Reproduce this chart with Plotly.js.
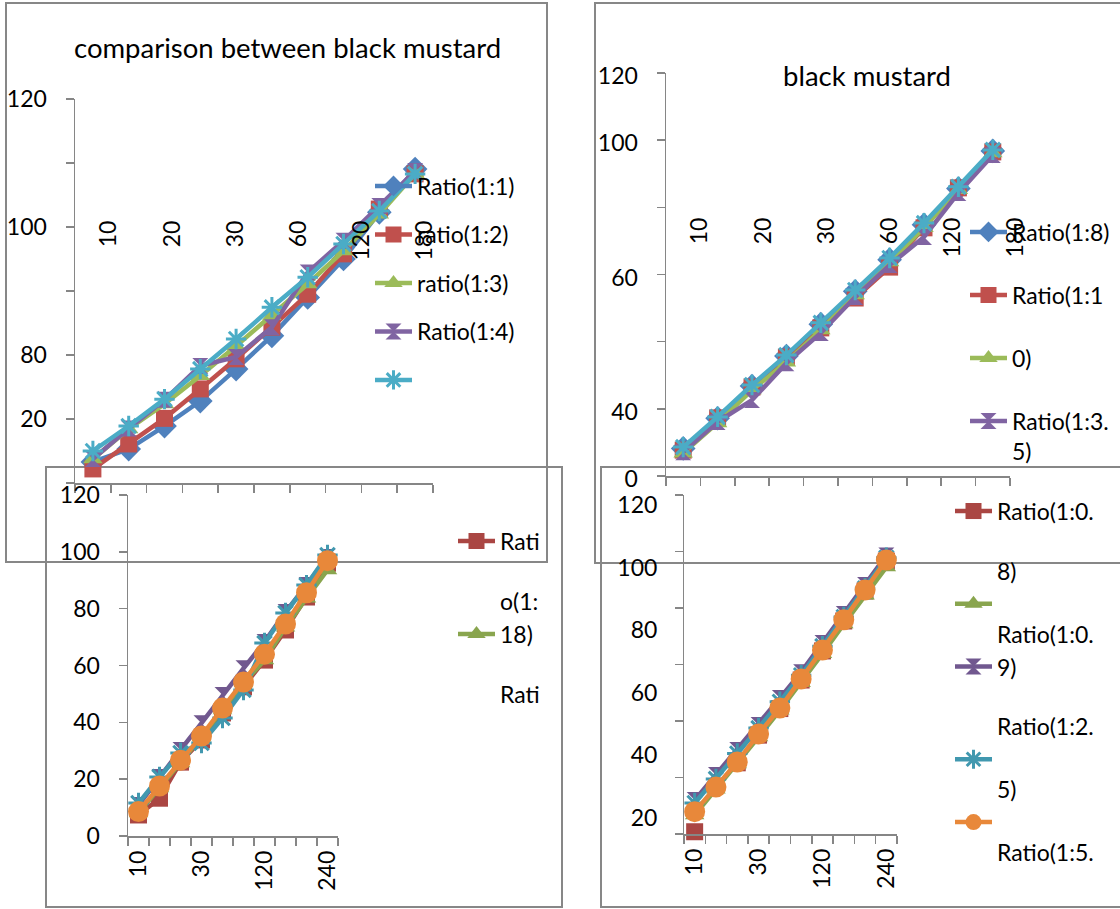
<!DOCTYPE html>
<html><head><meta charset="utf-8">
<script src="https://cdn.plot.ly/plotly-3.0.1.min.js"></script>
<style>html,body{margin:0;padding:0;background:#fff;}#chart{width:1120px;height:909px;}</style>
</head><body><div id="chart"></div>
<script>
// ---------- data ----------
const timePoints = ["10","15","20","30","45","60","120","150","180","240"];
const floatLabels = ["10","20","30","60","120","180"];
const bottomLabels = ["10","","","30","","","120","","","240"];
const yTicks = [0,20,40,60,80,100,120];
const yText1 = ["","20","80","","100","","120"];
const yText2 = ["0","40","","60","","100","120"];
const yText3 = ["0","20","40","60","80","100","120"];
const yTicks4 = [20,40,60,80,100,120];
const yText4 = ["20","40","60","80","100","120"];

const title1 = "comparison between black mustard";
const title2 = "black mustard";

// chart 1 (top left)
const c1Names = ["Ratio(1:1)","ratio(1:2)","ratio(1:3)","Ratio(1:4)",""];
const c1Blue   = [6.6,10.6,17.8,25.6,35.6,46.0,58.0,70.0,84.6,98.1];
const c1Red    = [4.4,12.2,20.2,29.4,38.8,48.7,59.0,71.6,85.6,96.6];
const c1Green  = [7.5,16.9,24.7,33.5,42.8,52.3,62.2,72.5,84.0,96.6];
const c1Purple = [7.5,17.0,26.0,36.6,39.4,48.7,65.8,75.7,86.6,97.5];
const c1Cyan   = [10.0,17.8,26.2,35.6,45.0,54.9,64.3,74.7,85.0,96.6];

// chart 2 (top right)
const c2Names = ["Ratio(1:8)","Ratio(1:1","0)","Ratio(1:3.<br>5)",""];
const c2Blue   = [8.2,17.2,26.8,35.7,45.2,55.0,64.4,74.8,85.6,96.8];
const c2Red    = [7.7,17.3,26.5,35.4,44.1,53.0,62.2,73.9,85.8,96.5];
const c2Green  = [6.8,15.8,25.6,33.9,43.5,53.9,63.7,73.9,85.2,96.2];
const c2Purple = [7.1,16.1,22.6,33.6,42.6,53.3,62.8,71.2,84.3,95.6];
const c2Cyan   = [8.6,17.6,27.1,36.0,45.6,55.4,64.9,75.3,86.1,97.1];

// chart 3 (bottom left)
const c3Names = ["Rati<br><br>o(1:","18)<br><br>Rati","","",""];
const c3Red    = [7.4,13.3,26.0,33.8,43.3,52.5,61.9,72.5,84.1,96.0];
const c3Green  = [8.1,16.9,25.7,34.8,44.3,53.8,61.9,73.5,83.7,93.6];
const c3Purple = [10.9,20.8,30.3,39.7,49.6,59.0,68.3,78.8,88.3,98.2];
const c3Cyan   = [11.6,20.8,29.2,32.7,41.5,51.4,67.9,78.5,88.3,98.9];
const c3Orange = [8.6,17.6,26.7,35.2,45.0,54.2,64.0,74.6,85.6,96.9];

// chart 4 (bottom right)
const c4Names = ["Ratio(1:0.<br><br>8)","<br>Ratio(1:0.","9)<br><br>Ratio(1:2.","<br>5)","<br>Ratio(1:5."];
const c4Red    = [0.8,null,25.2,35.0,44.4,54.5,64.8,75.4,86.0,96.6];
const c4Green  = [6.7,15.8,24.8,34.3,43.8,53.5,63.8,74.3,84.5,94.5];
const c4Purple = [12.0,20.9,29.7,38.6,48.1,57.3,67.6,77.9,88.1,98.6];
const c4Cyan   = [11.0,19.5,28.5,37.5,46.8,56.2,66.5,76.8,87.0,97.8];
const c4Orange = [7.9,16.6,25.5,35.4,44.6,54.9,65.1,75.8,86.4,97.0];

// ---------- styling ----------
const W = 1120, H = 909;
const fx = p => p / W;
const fy = p => 1 - p / H;
const FONT = "Lato, 'Open Sans', sans-serif";
const AX = '#868686';
const pA = {blue:'#4F81BD', red:'#C0504D', green:'#9BBB59', purple:'#8064A2', cyan:'#4BACC6'};
const pB = {red:'#AA4643', green:'#89A54E', purple:'#71588F', cyan:'#4198AF', orange:'#E8883A'};
const SYM = {blue:['diamond',19], red:['square',17], green:['triangle-up',17], purple:['hourglass',16], cyan:['asterisk-open',17], orange:['circle',21]};

function tr(y, name, color, key, xa, ya, leg, show, grp) {
  const [sym, size] = SYM[key];
  const m = {symbol: sym, size: size, color: color};
  if (sym.endsWith('-open')) m.line = {color: color, width: 3};
  return {type:'scatter', mode:'lines+markers', x: timePoints, y: y, name: name,
    xaxis: xa, yaxis: ya, legend: leg, showlegend: show, legendgroup: grp,
    line: {color: color, width: 4.5}, marker: m, cliponaxis: false, hoverinfo: 'skip'};
}
// empty carrier traces so that the free label axes get drawn
function carrier(xa, ya) {
  return {type:'scatter', mode:'markers', x: [], y: [], xaxis: xa, yaxis: ya, showlegend:false, hoverinfo:'skip'};
}

const data = [
  tr(c1Blue,   c1Names[0], pA.blue,   'blue',   'x','y','legend',true,'a1'),
  tr(c1Red,    c1Names[1], pA.red,    'red',    'x','y','legend',true,'a2'),
  tr(c1Green,  c1Names[2], pA.green,  'green',  'x','y','legend',true,'a3'),
  tr(c1Purple, c1Names[3], pA.purple, 'purple', 'x','y','legend',true,'a4'),
  tr(c1Cyan,   c1Names[4], pA.cyan,   'cyan',   'x','y','legend',true,'a5'),

  tr(c2Blue,   c2Names[0], pA.blue,   'blue',   'x2','y2','legend2',true,'b1'),
  tr(c2Red,    c2Names[1], pA.red,    'red',    'x2','y2','legend2',true,'b2'),
  tr(c2Green,  c2Names[2], pA.green,  'green',  'x2','y2','legend2',true,'b3'),
  tr(c2Purple, c2Names[3], pA.purple, 'purple', 'x2','y2','legend2',true,'b4'),
  tr(c2Cyan,   c2Names[4], pA.cyan,   'cyan',   'x2','y2','legend2',false,'b5'),

  tr(c3Red,    c3Names[0], pB.red,    'red',    'x3','y3','legend3',true,'c1'),
  tr(c3Green,  c3Names[1], pB.green,  'green',  'x3','y3','legend3',true,'c2'),
  tr(c3Purple, c3Names[2], pB.purple, 'purple', 'x3','y3','legend3',false,'c3'),
  tr(c3Cyan,   c3Names[3], pB.cyan,   'cyan',   'x3','y3','legend3',false,'c4'),
  tr(c3Orange, c3Names[4], pB.orange, 'orange', 'x3','y3','legend3',false,'c5'),

  tr(c4Red,    c4Names[0], pB.red,    'red',    'x4','y4','legend4',true,'d1'),
  tr(c4Green,  c4Names[1], pB.green,  'green',  'x4','y4','legend4',true,'d2'),
  tr(c4Purple, c4Names[2], pB.purple, 'purple', 'x4','y4','legend4',true,'d3'),
  tr(c4Cyan,   c4Names[3], pB.cyan,   'cyan',   'x4','y4','legend4',true,'d4'),
  tr(c4Orange, c4Names[4], pB.orange, 'orange', 'x4','y4','legend4',true,'d5'),

  carrier('x5','y'), carrier('x6','y2'), carrier('x4','y7')
];

const tickFont = {family: FONT, size: 23, color: '#000'};
function xCat(d0, d1, anchor, labels) {
  return {domain:[fx(d0), fx(d1)], anchor: anchor, type:'category',
    categoryorder:'array', categoryarray: timePoints, range:[-0.5, 9.5], autorange:false,
    tickmode:'array', tickvals: timePoints, ticktext: labels || timePoints.map(() => ''),
    showticklabels: !!labels, tickson:'boundaries', ticks:'outside', ticklen:8, tickwidth:1.5, tickcolor:AX,
    showline:true, linecolor:AX, linewidth:1.5, showgrid:false, zeroline:false,
    tickangle:-90, tickfont: tickFont, ticklabelstandoff: 4};
}
function yLin(p0, p1, anchor, text, shift) {
  return {domain:[fy(p0), fy(p1)], anchor: anchor, range:[0,120], autorange:false,
    tickmode:'array', tickvals: yTicks, ticktext: text || yTicks.map(() => ''),
    showticklabels: !!text, ticks:'outside', ticklen:8, tickwidth:1.5, tickcolor:AX,
    showline:true, linecolor:AX, linewidth:1.5, showgrid:false, zeroline:false,
    tickfont: tickFont, ticklabelstandoff: 14, ticklabelshift: shift || 0};
}
function floatAxis(d0, d1, posPx) {
  return {domain:[fx(d0), fx(d1)], anchor:'free', position: fy(posPx),
    range:[-0.5, floatLabels.length - 0.5], autorange:false,
    tickmode:'array', tickvals: floatLabels.map((_, i) => i), ticktext: floatLabels,
    tickangle:-90, ticks:'', showline:false, showgrid:false, zeroline:false, tickfont: tickFont};
}
function legendCfg(xPx, topPx, gap) {
  return {x: fx(xPx), y: fy(topPx), xanchor:'left', yanchor:'top', bgcolor:'rgba(0,0,0,0)',
    borderwidth:0, font:{family:FONT, size:23, color:'#000'}, itemwidth:37,
    traceorder:'grouped', tracegroupgap: gap, valign:'top', itemclick:false, itemdoubleclick:false};
}
function box(x0, x1, y0, y1) {
  return {type:'rect', xref:'paper', yref:'paper', x0: fx(x0), x1: fx(x1), y0: fy(y1), y1: fy(y0),
    line:{color:'#878787', width:2}, fillcolor:'rgba(0,0,0,0)', layer:'below'};
}

const layout = {
  width: W, height: H, autosize:false,
  margin:{l:0, r:0, t:0, b:0, pad:0},
  paper_bgcolor:'#fff', plot_bgcolor:'rgba(0,0,0,0)',
  font:{family: FONT, color:'#000'},
  xaxis:  xCat(75, 433, 'y'),
  yaxis:  yLin(483, 99, 'x', yText1),
  xaxis2: xCat(666, 1010, 'y2'),
  yaxis2: yLin(476, 73, 'x2', yText2, 3),
  xaxis3: xCat(128, 338, 'y3', bottomLabels),
  yaxis3: yLin(836, 495, 'x3', yText3),
  xaxis4: xCat(684, 897, 'y4', bottomLabels),
  yaxis4: yLin(834, 495, 'x4'),
  xaxis5: floatAxis(77.4, 456.6, 215),
  xaxis6: floatAxis(668.4, 1047.6, 212),
  yaxis7: {domain:[fy(880), fy(505)], anchor:'free', position: fx(684), range:[0,120], autorange:false,
    tickmode:'array', tickvals: yTicks4, ticktext: yText4, ticks:'outside', ticklen:8,
    tickcolor:'rgba(0,0,0,0)', showline:false, showgrid:false, zeroline:false,
    tickfont: tickFont, ticklabelstandoff: 14},
  legend:  legendCfg(370, 164.5, 15.6),
  legend2: legendCfg(965, 210.5, 30.1),
  legend3: legendCfg(453, 519.6, 0.3),
  legend4: legendCfg(950, 489.6, 0),
  annotations: [
    {text: title1, xref:'paper', yref:'paper', x: fx(287), y: fy(48), showarrow:false,
     xanchor:'center', yanchor:'middle', font:{family:FONT, size:27.5, color:'#000'}},
    {text: title2, xref:'paper', yref:'paper', x: fx(867), y: fy(76), showarrow:false,
     xanchor:'center', yanchor:'middle', font:{family:FONT, size:27.5, color:'#000'}}
  ],
  shapes: [box(6,547,3,562), box(595,1130,3,563), box(46,562,467,907), box(601,1130,467,907)],
  showlegend: true
};

Plotly.newPlot('chart', data, layout, {displayModeBar:false, staticPlot:true});
</script>
</body></html>
